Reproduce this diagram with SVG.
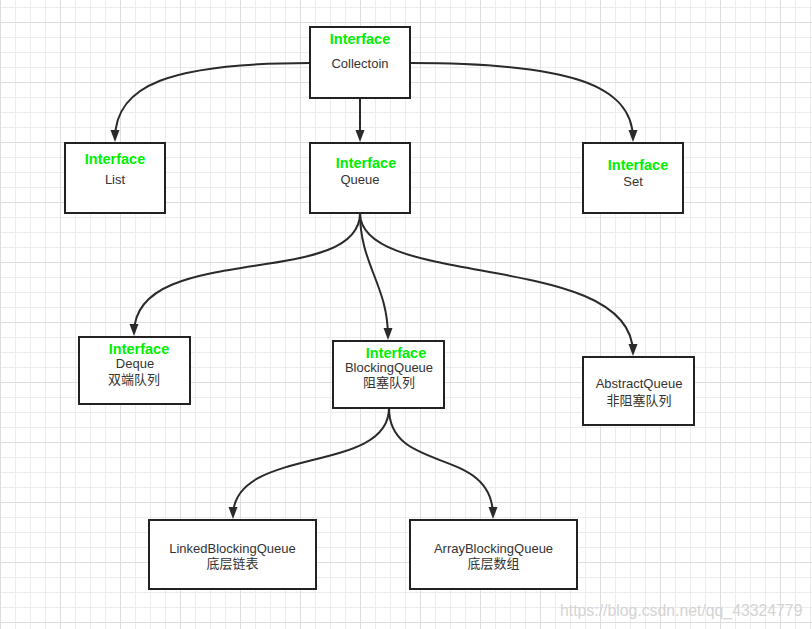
<svg xmlns="http://www.w3.org/2000/svg" width="812" height="629" viewBox="0 0 812 629">
<defs>
<pattern id="grid" patternUnits="userSpaceOnUse" x="0" y="7" width="60" height="60">
<rect x="0" y="0" width="60" height="60" fill="#ffffff"/>
<rect x="15" y="0" width="1" height="60" fill="#ececec"/>
<rect x="30" y="0" width="1" height="60" fill="#ececec"/>
<rect x="45" y="0" width="1" height="60" fill="#ececec"/>
<rect x="0" y="0" width="60" height="1" fill="#ececec"/>
<rect x="0" y="30" width="60" height="1" fill="#ececec"/>
<rect x="0" y="45" width="60" height="1" fill="#ececec"/>
<rect x="0" y="0" width="1" height="60" fill="#dedede"/>
<rect x="0" y="15" width="60" height="1" fill="#dedede"/>
</pattern>
<marker id="arr" markerUnits="userSpaceOnUse" markerWidth="14" markerHeight="10" refX="9" refY="4.5" orient="auto">
<path d="M0,0 L12,4.5 L0,9 z" fill="#2a2a2a"/>
</marker>
<style>
.box{fill:#ffffff;stroke:#222222;stroke-width:2}
.edge{fill:none;stroke:#2a2a2a;stroke-width:2;marker-end:url(#arr)}
.itf{font-family:"Liberation Sans","Noto Sans CJK SC",sans-serif;font-size:14.5px;font-weight:bold;fill:#00ee00;text-anchor:middle}
.lbl{font-family:"Liberation Sans","Noto Sans CJK SC",sans-serif;font-size:13px;fill:#333333;text-anchor:middle}
.wm{font-family:"Liberation Sans",sans-serif;font-size:15.8px;fill:#d4d4d4}
</style>
</defs>
<rect x="0" y="0" width="812" height="629" fill="url(#grid)"/>
<g id="connectors">
<path class="edge" d="M310,63 C170,63 115,85 115,139"/>
<path class="edge" d="M410,63 C570,63 633,85 633,139"/>
<path class="edge" d="M360,98 L360,139"/>
<path class="edge" d="M360,213 C360,290 134,240 134,333"/>
<path class="edge" d="M360,213 C360,265 388,285 388,337"/>
<path class="edge" d="M360,213 C360,290 633,250 633,353"/>
<path class="edge" d="M389,408 C389,475 233,445 233,516"/>
<path class="edge" d="M389,408 C389,475 493,445 493,516"/>
</g>
<g id="collection">
<rect class="box" x="310" y="27" width="100" height="71"/>
<text class="itf" x="360" y="44">Interface</text>
<text class="lbl" x="360" y="68">Collectoin</text>
</g>
<g id="list">
<rect class="box" x="65" y="143" width="100" height="70"/>
<text class="itf" x="115" y="164">Interface</text>
<text class="lbl" x="115" y="184">List</text>
</g>
<g id="queue">
<rect class="box" x="310" y="143" width="100" height="70"/>
<text class="itf" x="366" y="168">Interface</text>
<text class="lbl" x="360" y="184">Queue</text>
</g>
<g id="set">
<rect class="box" x="583" y="143" width="100" height="70"/>
<text class="itf" x="638" y="170">Interface</text>
<text class="lbl" x="633" y="186">Set</text>
</g>
<g id="deque">
<rect class="box" x="79" y="337" width="111" height="67"/>
<text class="itf" x="139" y="354">Interface</text>
<text class="lbl" x="135" y="368">Deque</text>
<text class="lbl" x="134" y="384">双端队列</text>
</g>
<g id="blockingqueue">
<rect class="box" x="333" y="341" width="111" height="67"/>
<text class="itf" x="396" y="358">Interface</text>
<text class="lbl" x="389" y="372">BlockingQueue</text>
<text class="lbl" x="389" y="387">阻塞队列</text>
</g>
<g id="abstractqueue">
<rect class="box" x="583" y="357" width="111" height="68"/>
<text class="lbl" x="639" y="388">AbstractQueue</text>
<text class="lbl" x="639" y="405">非阻塞队列</text>
</g>
<g id="linkedblockingqueue">
<rect class="box" x="149" y="520" width="167" height="69"/>
<text class="lbl" x="232.5" y="553">LinkedBlockingQueue</text>
<text class="lbl" x="232.5" y="568">底层链表</text>
</g>
<g id="arrayblockingqueue">
<rect class="box" x="410" y="520" width="167" height="69"/>
<text class="lbl" x="493.5" y="553">ArrayBlockingQueue</text>
<text class="lbl" x="493.5" y="568">底层数组</text>
</g>
<text class="wm" x="560" y="616">https://blog.csdn.net/qq_43324779</text>
</svg>
